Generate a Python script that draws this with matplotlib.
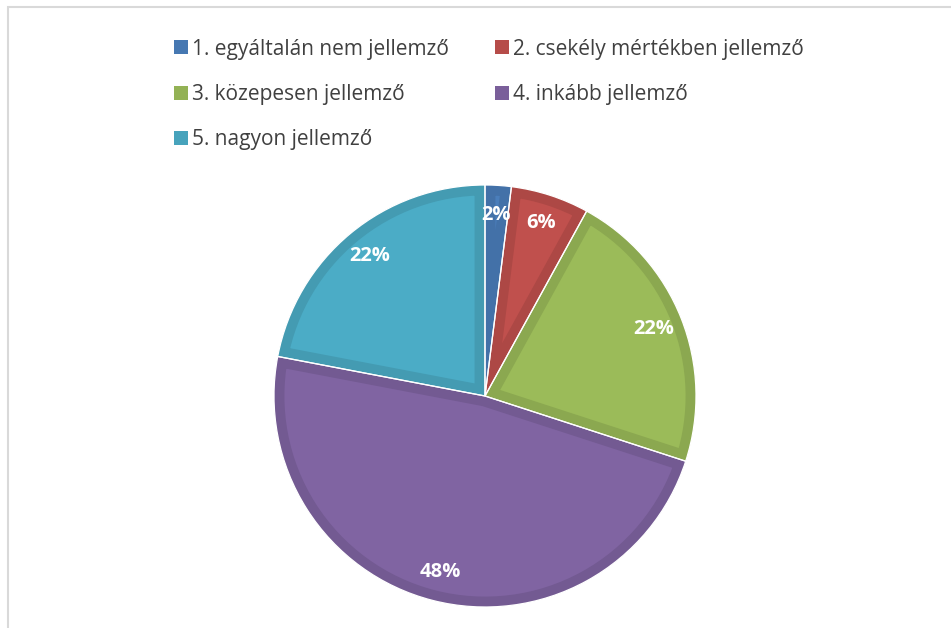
import numpy as np
import matplotlib
matplotlib.use("Agg")
import matplotlib.pyplot as plt
from matplotlib.colors import to_rgb
from matplotlib.patches import Rectangle

labels = ["1. egyáltalán nem jellemző", "2. csekély mértékben jellemző",
          "3. közepesen jellemző", "4. inkább jellemző", "5. nagyon jellemző"]
values = [2, 6, 22, 48, 22]
colors = ["#4A7EBB", "#C0504D", "#9BBB59", "#8064A2", "#4BACC6"]

plt.rcParams["font.family"] = ["Open Sans", "DejaVu Sans"]

W, H = 951, 628
fig = plt.figure(figsize=(W / 100, H / 100), dpi=100)

# chart frame (right/bottom edges run off the picture)
fig.patches.append(Rectangle((8 / W, -0.1), 1.2, 1 - 7 / H + 0.1,
                             transform=fig.transFigure, fill=False,
                             edgecolor="#D9D9D9", linewidth=1.5))

def darker(c, f=0.9):
    return tuple(v * f for v in to_rgb(c))

cx, cy, r = 485, 396, 211
pad = 4
ax = fig.add_axes([(cx - r - pad) / W, (H - cy - r - pad) / H,
                   (2 * r + 2 * pad) / W, (2 * r + 2 * pad) / H])
ax.axis("off")

wedges, _ = ax.pie(values, colors=colors, startangle=90, counterclock=False, radius=1)
for w, c in zip(wedges, colors):
    w.set_edgecolor(darker(c))
    w.set_linewidth(15)
    w.set_clip_on(True)
    w.set_clip_path(w)

# thin white separators
ax.pie(values, startangle=90, counterclock=False, radius=1,
       wedgeprops=dict(edgecolor="white", linewidth=0.9, fill=False))

lim = (r + pad) / r
ax.set_xlim(-lim, lim)
ax.set_ylim(-lim, lim)
ax.set_aspect("equal")

# percent labels
total = sum(values)
for w, v in zip(wedges, values):
    ang = np.deg2rad((w.theta1 + w.theta2) / 2)
    d = 0.86
    ax.text(d * np.cos(ang), d * np.sin(ang), f"{round(100 * v / total)}%",
            ha="center", va="center", color="white", fontsize=14.5, fontweight="bold")

# legend
for i, (lab, c) in enumerate(zip(labels, colors)):
    col, row = i % 2, i // 2
    x = 181 + col * 321
    y = 47 + row * 45.5
    fig.patches.append(Rectangle(((x - 7) / W, (H - y - 7) / H), 14 / W, 14 / H,
                                 transform=fig.transFigure, facecolor=darker(c, 0.95),
                                 edgecolor="none"))
    fig.text((x + 11) / W, (H - y - 2) / H, lab, ha="left", va="center",
             fontsize=15, color="#404040")

fig.savefig("out.png", dpi=100, facecolor="white")
